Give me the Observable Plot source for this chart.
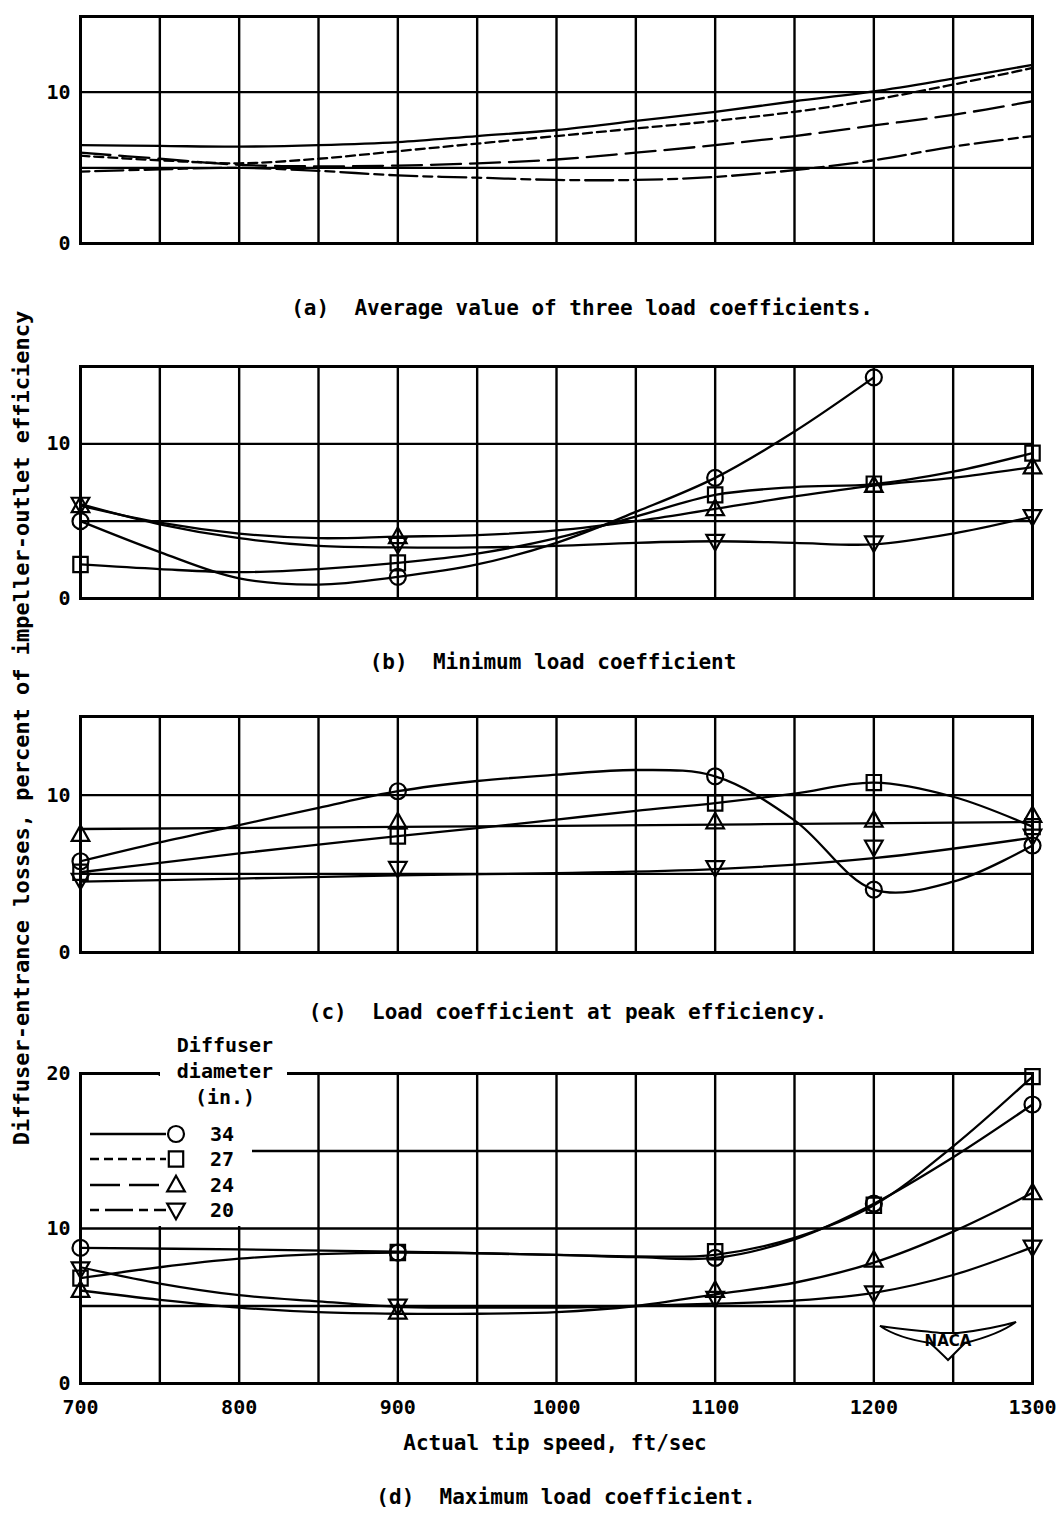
<!DOCTYPE html>
<html><head><meta charset="utf-8">
<script src="https://cdn.jsdelivr.net/npm/d3@7"></script>
<script src="https://cdn.jsdelivr.net/npm/@observablehq/plot@0.6"></script>
<style>
body{margin:0;background:#fff;}
#fig{position:relative;width:1058px;height:1517px;background:#fff;font-family:"DejaVu Sans Mono",monospace;font-weight:bold;color:#000;overflow:hidden;}
.cap{position:absolute;white-space:pre;font-size:21px;line-height:24px;transform:translateX(-50%);}
.panel{position:absolute;left:0;}
</style></head><body><div id="fig"></div>
<script>
// ---------- data ----------
const xGrid = [700,750,800,850,900,950,1000,1050,1100,1150,1200,1250,1300];
const xTickLabels = [700,800,900,1000,1100,1200,1300];
const speeds = [700,900,1100,1200,1300];
const diameters = ["34","27","24","20"];
const yGrid15 = [5,10];
const yGrid20 = [5,10,15];
const yLabels15 = [0,10];
const yLabels20 = [0,10,20];

// (a) average of three load coefficients (faired curves only)
const a34 = [[700,6.5],[750,6.45],[800,6.4],[850,6.5],[900,6.7],[950,7.1],[1000,7.5],[1050,8.1],[1100,8.7],[1150,9.4],[1200,10.05],[1250,10.9],[1300,11.8]];
const a27 = [[700,5.8],[750,5.5],[800,5.3],[850,5.6],[900,6.1],[950,6.6],[1000,7.1],[1050,7.6],[1100,8.1],[1150,8.7],[1200,9.5],[1250,10.5],[1300,11.6]];
const a24 = [[700,6.0],[750,5.6],[800,5.2],[850,5.1],[900,5.15],[950,5.3],[1000,5.55],[1050,6.0],[1100,6.5],[1150,7.1],[1200,7.8],[1250,8.5],[1300,9.4]];
const a20 = [[700,4.75],[750,4.9],[800,5.0],[850,4.8],[900,4.5],[950,4.35],[1000,4.2],[1050,4.2],[1100,4.4],[1150,4.85],[1200,5.5],[1250,6.4],[1300,7.1]];

// (b) minimum load coefficient: test points and faired curves
const b34 = [5.0, 1.4, 7.8, 14.3, null];
const b27 = [2.2, 2.3, 6.7, 7.4, 9.4];
const b24 = [6.0, 4.0, 5.8, 7.3, 8.5];
const b20 = [6.1, 3.5, 3.7, 3.6, 5.3];
const bc34 = [[700,5.0],[750,3.0],[800,1.3],[850,0.9],[900,1.4],[950,2.2],[1000,3.6],[1050,5.6],[1100,7.8],[1150,10.8],[1200,14.3]];
const bc27 = [[700,2.2],[750,1.9],[800,1.7],[850,1.9],[900,2.3],[950,2.9],[1000,3.9],[1050,5.3],[1100,6.7],[1150,7.2],[1200,7.4],[1250,8.2],[1300,9.4]];
const bc24 = [[700,6.0],[750,4.9],[800,4.2],[850,3.9],[900,4.0],[950,4.1],[1000,4.4],[1050,5.0],[1100,5.8],[1150,6.6],[1200,7.3],[1250,7.8],[1300,8.5]];
const bc20 = [[700,6.1],[750,4.8],[800,3.9],[850,3.4],[900,3.3],[950,3.3],[1000,3.4],[1050,3.6],[1100,3.7],[1150,3.6],[1200,3.5],[1250,4.2],[1300,5.3]];

// (c) load coefficient at peak efficiency
const c34 = [5.8, 10.25, 11.2, 4.0, 6.8];
const c27 = [5.1, 7.4, 9.5, 10.8, 8.0];
const c24 = [7.5, 8.3, 8.3, 8.4, 8.7];
const c20 = [4.6, 5.35, 5.4, 6.7, 7.4];
const cc34 = [[700,5.8],[750,7.0],[800,8.1],[850,9.2],[900,10.25],[950,10.9],[1000,11.3],[1050,11.6],[1100,11.2],[1150,8.4],[1200,4.0],[1250,4.5],[1300,6.8]];
const cc27 = [[700,5.1],[750,5.7],[800,6.3],[850,6.85],[900,7.4],[950,7.9],[1000,8.45],[1050,9.0],[1100,9.5],[1150,10.1],[1200,10.8],[1250,9.9],[1300,8.0]];
const cc24 = [[700,7.85],[1000,8.05],[1300,8.3]];
const cc20 = [[700,4.5],[800,4.7],[900,4.9],[1000,5.05],[1100,5.3],[1200,6.0],[1300,7.3]];

// (d) maximum load coefficient
const d34 = [8.75, 8.45, 8.1, 11.6, 18.0];
const d27 = [6.8, 8.45, 8.5, 11.5, 19.8];
const d24 = [6.0, 4.6, 6.0, 7.95, 12.3];
const d20 = [7.4, 5.0, 5.5, 5.85, 8.8];
const dc34 = [[700,8.75],[800,8.65],[900,8.5],[1000,8.3],[1050,8.15],[1100,8.1],[1150,9.3],[1200,11.6],[1250,14.6],[1300,18.0]];
const dc27 = [[700,6.8],[750,7.5],[800,8.05],[850,8.35],[900,8.45],[1000,8.3],[1050,8.2],[1100,8.3],[1150,9.4],[1200,11.5],[1250,15.3],[1300,19.8]];
const dc24 = [[700,6.0],[750,5.4],[800,4.9],[850,4.6],[900,4.5],[950,4.5],[1000,4.6],[1050,5.0],[1100,5.75],[1150,6.5],[1200,7.8],[1250,9.8],[1300,12.3]];
const dc20 = [[700,7.5],[750,6.45],[800,5.7],[850,5.3],[900,4.95],[950,4.9],[1000,4.9],[1050,5.0],[1100,5.15],[1150,5.35],[1200,5.85],[1250,7.0],[1300,8.8]];

// ---------- symbols ----------
const symCircle = {draw(ctx, size){const r=Math.sqrt(size/Math.PI); ctx.moveTo(r,0); ctx.arc(0,0,r,0,2*Math.PI);}};
const symSquare = {draw(ctx, size){const r=Math.sqrt(size/Math.PI)*0.9; ctx.rect(-r,-r*1.05,2*r,2.1*r);}};
const symUp = {draw(ctx, size){const r=Math.sqrt(size/Math.PI); ctx.moveTo(0,-r*1.15); ctx.lineTo(r*1.1,r*0.8); ctx.lineTo(-r*1.1,r*0.8); ctx.closePath();}};
const symDown = {draw(ctx, size){const r=Math.sqrt(size/Math.PI); ctx.moveTo(0,r*1.15); ctx.lineTo(r*1.1,-r*0.8); ctx.lineTo(-r*1.1,-r*0.8); ctx.closePath();}};
const symbols = {"34":symCircle,"27":symSquare,"24":symUp,"20":symDown};
const dashes = {"34":null,"27":"9,5","24":"30,9","20":"9,6,28,6"};

const pts = arr => speeds.map((s,i)=>({x:s,y:arr[i]})).filter(d=>d.y!=null);
const crv = arr => arr.map(([x,y])=>({x,y}));

const fig = document.getElementById("fig");
const fontStyle = {fontFamily:'"DejaVu Sans Mono", monospace', fontSize:"20px", fontWeight:"bold", overflow:"visible", background:"transparent"};

function panel({top, height, marginBottom, yMax, yGrid, yLabels, curves, markers, dashed, xAxis}) {
  const marks = [
    Plot.ruleX(xGrid, {stroke:"#000", strokeWidth:2.4}),
    Plot.ruleY(yGrid, {stroke:"#000", strokeWidth:2.4}),
    Plot.frame({stroke:"#000", strokeWidth:3}),
    Plot.axisY(yLabels, {tickSize:0, tickPadding:10, fontSize:20, label:null, tickFormat:d=>String(d)})
  ];
  if (xAxis) marks.push(Plot.axisX(xTickLabels, {tickSize:0, tickPadding:16, fontSize:20, label:null, tickFormat:d=>String(d)}));
  diameters.forEach((k,i)=>{
    if (!curves[i]) return;
    marks.push(Plot.line(crv(curves[i]), {x:"x", y:"y", curve:"catmull-rom", stroke:"#000", strokeWidth:2.3,
      strokeDasharray: dashed ? dashes[k] : null}));
  });
  if (markers) diameters.forEach((k,i)=>{
    marks.push(Plot.dot(pts(markers[i]), {x:"x", y:"y", symbol:symbols[k], r:8, fill:"none", stroke:"#000", strokeWidth:2.2}));
  });
  const svg = Plot.plot({
    width:1058, height, marginLeft:80, marginRight:26, marginTop:16, marginBottom,
    x:{domain:[700,1300], axis:null, label:null}, y:{domain:[0,yMax], axis:null, label:null},
    style:fontStyle, marks
  });
  svg.classList.add("panel");
  svg.style.position="absolute"; svg.style.top = top+"px"; svg.style.left="0px";
  fig.appendChild(svg);
}

panel({top:0, height:260, marginBottom:17, yMax:15, yGrid:yGrid15, yLabels:yLabels15, curves:[a34,a27,a24,a20], markers:null, dashed:true});
panel({top:350, height:265, marginBottom:17, yMax:15, yGrid:yGrid15, yLabels:yLabels15, curves:[bc34,bc27,bc24,bc20], markers:[b34,b27,b24,b20]});
panel({top:700, height:270, marginBottom:18, yMax:15, yGrid:yGrid15, yLabels:yLabels15, curves:[cc34,cc27,cc24,cc20], markers:[c34,c27,c24,c20]});
panel({top:1057, height:371, marginBottom:45, yMax:20, yGrid:yGrid20, yLabels:yLabels20, curves:[dc34,dc27,dc24,dc20], markers:[d34,d27,d24,d20], xAxis:true});

// captions
const caps = [
  ["(a)  Average value of three load coefficients.", 582, 296],
  ["(b)  Minimum load coefficient", 553, 650],
  ["(c)  Load coefficient at peak efficiency.", 568, 1000],
  ["Actual tip speed, ft/sec", 555, 1431],
  ["(d)  Maximum load coefficient.", 566, 1485]
];
caps.forEach(([t,x,y])=>{
  const d=document.createElement("div"); d.className="cap"; d.textContent=t;
  d.style.left=x+"px"; d.style.top=y+"px"; fig.appendChild(d);
});

// overlay: y title, legend, logo
const ov = d3.select(fig).append("svg").attr("width",1058).attr("height",1517)
  .style("position","absolute").style("left","0px").style("top","0px")
  .style("font-family",'"DejaVu Sans Mono", monospace').style("font-weight","bold");
ov.append("text").attr("transform","translate(29,728) rotate(-90)").attr("text-anchor","middle")
  .attr("font-size",22).text("Diffuser-entrance losses, percent of impeller-outlet efficiency");

// legend
ov.append("rect").attr("x",160).attr("y",1032).attr("width",127).attr("height",68).attr("fill","#fff");
ov.append("rect").attr("x",82).attr("y",1076).attr("width",170).attr("height",150).attr("fill","#fff");
[["Diffuser",1052],["diameter",1078],["(in.)",1104]].forEach(([t,y])=>{
  ov.append("text").attr("x",225).attr("y",y).attr("text-anchor","middle").attr("font-size",20).text(t);
});
const legY = [1134,1159,1185,1210];
diameters.forEach((k,i)=>{
  const y = legY[i];
  ov.append("line").attr("x1",90).attr("x2",166).attr("y1",y).attr("y2",y)
    .attr("stroke","#000").attr("stroke-width",2.3).attr("stroke-dasharray", dashes[k]);
  ov.append("path").attr("transform",`translate(176,${y})`)
    .attr("d", d3.symbol(symbols[k], Math.PI*64)())
    .attr("fill","none").attr("stroke","#000").attr("stroke-width",2.2);
  ov.append("text").attr("x",210).attr("y",y+7).attr("font-size",20).text(k);
});

// NACA logo
const logo = ov.append("g");
logo.append("path").attr("d","M880,1326 C905,1330 925,1331 940,1333 L958,1333 C975,1331 995,1328 1016,1322 C1005,1330 985,1338 965,1343 C958,1350 952,1356 948,1360 C944,1356 938,1350 930,1343 C910,1340 892,1334 880,1326 Z")
  .attr("fill","#fff").attr("stroke","#000").attr("stroke-width",2);
logo.append("text").attr("x",948).attr("y",1346).attr("text-anchor","middle").attr("font-size",15)
  .attr("font-family","DejaVu Sans").attr("font-weight","bold").text("NACA");
</script></body></html>
